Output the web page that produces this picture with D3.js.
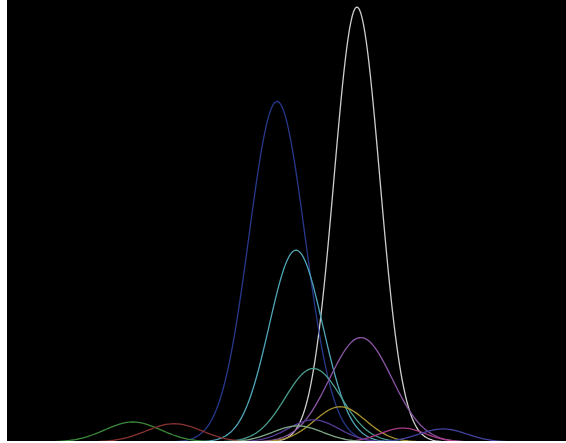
<!DOCTYPE html>
<html>
<head>
<meta charset="utf-8">
<script src="https://cdn.jsdelivr.net/npm/d3@7"></script>
<style>
  html, body { margin: 0; padding: 0; background: #ffffff; }
  svg { display: block; }
</style>
</head>
<body>
<svg id="chart" width="566" height="443"></svg>
<script>
// Groups and the normal-curve parameters of each (centre, spread, peak height)
const groups  = ["g1", "g2", "g3", "g4", "g5", "g6", "g7", "g8", "g9", "g10", "g11", "g12"];
const centres = [62.6, 48.3, 51.7, 54.8, 63.3, 59.6, 22.5, 29.9, 70.8, 78.0, 54.8, 52.0];
const spreads = [4.1, 5.0, 4.8, 5.0, 5.6, 4.6, 5.0, 5.0, 4.0, 4.3, 4.5, 4.5];
const peaks   = [1.00, 0.783, 0.441, 0.169, 0.240, 0.081, 0.046, 0.042, 0.032, 0.030, 0.051, 0.037];
const colours = ["#cdcdcd", "#28388a", "#4fa6b8", "#4a9c8e", "#8a56a4", "#a8922e",
                 "#3a883a", "#883232", "#a83a86", "#4242a0", "#563a96", "#7ea886"];

// Horizontal grid of evaluation points for the curves
const xDomain = [0, 100];
const xSamples = d3.range(xDomain[0], xDomain[1] + 0.001, 0.25);

const svg = d3.select("#chart");
const W = 566, H = 443;
const plot = { left: 7, top: 0, right: 566, bottom: 441 };

svg.append("rect").attr("x", 0).attr("y", 0).attr("width", W).attr("height", H).attr("fill", "#ffffff");
svg.append("rect")
  .attr("x", plot.left).attr("y", plot.top)
  .attr("width", plot.right - plot.left).attr("height", plot.bottom - plot.top)
  .attr("fill", "#000000");

svg.append("clipPath").attr("id", "plot-clip")
  .append("rect")
  .attr("x", plot.left).attr("y", plot.top)
  .attr("width", plot.right - plot.left).attr("height", plot.bottom - plot.top);

const x = d3.scaleLinear().domain(xDomain).range([plot.left, plot.right]);
const y = d3.scaleLinear().domain([0, 1]).range([442, 7]);

const line = d3.line()
  .x(d => x(d[0]))
  .y(d => y(d[1]))
  .curve(d3.curveLinear);

const g = svg.append("g").attr("clip-path", "url(#plot-clip)");
groups.forEach((name, i) => {
  const mu = centres[i], sd = spreads[i], pk = peaks[i];
  const pts = xSamples.map(v => [v, pk * Math.exp(-0.5 * ((v - mu) / sd) ** 2)]);
  g.append("path")
    .datum(pts)
    .attr("class", "curve " + name)
    .attr("fill", "none")
    .attr("stroke", colours[i])
    .attr("stroke-width", 1.3)
    .attr("d", line);
});
</script>
</body>
</html>
